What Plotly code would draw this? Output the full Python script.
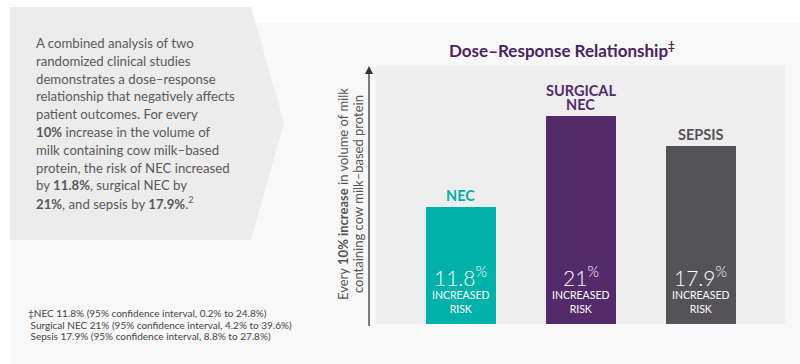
import plotly.graph_objects as go

# ---- data ----
categories = ["NEC", "SURGICAL NEC", "SEPSIS"]
bar_titles = [["NEC"], ["SURGICAL", "NEC"], ["SEPSIS"]]
values = [11.8, 21.0, 17.9]
value_labels = ["11.8", "21", "17.9"]
bar_colors = ["#00b2a9", "#532a6a", "#545358"]

title_text = "Dose\u2013Response Relationship<sup>\u2021</sup>"
ylabel_lines = ["Every <b>10% increase</b> in volume of milk",
                "containing cow milk\u2013based protein"]
body_lines = [
    "A combined analysis of two",
    "randomized clinical studies",
    "demonstrates a dose\u2013response",
    "relationship that negatively affects",
    "patient outcomes. For every",
    "<b>10%</b> increase in the volume of",
    "milk containing cow milk\u2013based",
    "protein, the risk of NEC increased",
    "by <b>11.8%</b>, surgical NEC by",
    "<b>21%</b>, and sepsis by <b>17.9%</b>.<sup>2</sup>",
]
footnote_lines = [
    "\u2021NEC 11.8% (95% confidence interval, 0.2% to 24.8%)",
    "\u00a0Surgical NEC 21% (95% confidence interval, 4.2% to 39.6%)",
    "\u00a0Sepsis 17.9% (95% confidence interval, 8.8% to 27.8%)",
]

W, H = 800, 364
L, R, T, B = 376, 785, 66, 324  # plot area in pixels
FONT = "Lato"


def px(x):
    return (x - L) / (R - L)


def py(y):
    return (B - y) / (B - T)


fig = go.Figure()
fig.add_trace(go.Bar(
    x=categories, y=values, marker=dict(color=bar_colors, line=dict(width=0)),
    width=0.58, hoverinfo="skip", showlegend=False,
))

shapes = [
    dict(type="rect", xref="paper", yref="paper", x0=px(10), x1=px(800),
         y0=py(23), y1=py(364), fillcolor="#f8f8f8", line=dict(width=0), layer="below"),
    dict(type="path", xref="paper", yref="paper",
         path=f"M {px(10)},{py(7)} L {px(251)},{py(7)} L {px(284)},{py(123)} "
              f"L {px(251)},{py(240)} L {px(10)},{py(240)} Z",
         fillcolor="#ececec", line=dict(width=0), layer="below"),
    dict(type="rect", xref="paper", yref="paper", x0=0, x1=1, y0=0, y1=1,
         fillcolor="#eeeeee", line=dict(width=0), layer="below"),
    dict(type="line", xref="paper", yref="paper", x0=px(369), x1=px(369),
         y0=py(326), y1=py(72), line=dict(color="#7a7a7a", width=2), layer="above"),
    dict(type="path", xref="paper", yref="paper",
         path=f"M {px(365)},{py(74)} L {px(373)},{py(74)} L {px(369)},{py(66)} Z",
         fillcolor="#333333", line=dict(width=0), layer="above"),
]

annotations = []


def note(text, x, y, size, color, xanchor="center", **kw):
    annotations.append(dict(text=text, xref="paper", yref="paper", x=px(x), y=py(y),
                            xanchor=xanchor, yanchor="middle", showarrow=False,
                            font=dict(family=FONT, size=size, color=color), **kw))


note(f"<b>{title_text}</b>", 562, 50, 17, "#4a2463")
for i, line in enumerate(ylabel_lines):
    note(line, 343 + 15 * i, 194, 13, "#555555", textangle=-90)
for i, line in enumerate(body_lines):
    note(line, 34, 43 + 17.8 * i, 13.2, "#5a5a5a", xanchor="left")
for i, line in enumerate(footnote_lines):
    note(line, 26, 313 + 11.5 * i, 10, "#444444", xanchor="left")

for cat, ttl, val, lab, col in zip(categories, bar_titles, values, value_labels, bar_colors):
    n = len(ttl)
    for j, line in enumerate(ttl):
        annotations.append(dict(text=f"<b>{line}</b>", x=cat, y=val, xref="x", yref="y",
                                yanchor="bottom", yshift=1 + 14 * (n - 1 - j), showarrow=False,
                                font=dict(family=FONT, size=14.5, color=col)))
    annotations.append(dict(text=f"{lab}<sup>%</sup>",
                            x=cat, y=0, xref="x", yref="y",
                            yanchor="middle", yshift=48, showarrow=False,
                            font=dict(family=FONT, size=21, color="white", weight=300)))
    annotations.append(dict(text="INCREASED<br>RISK", x=cat, y=0, xref="x", yref="y",
                            yanchor="middle", yshift=22, showarrow=False,
                            font=dict(family=FONT, size=10.5, color="white")))

fig.update_layout(
    width=W, height=H,
    margin=dict(l=L, r=W - R, t=T, b=H - B, pad=0),
    paper_bgcolor="white", plot_bgcolor="rgba(0,0,0,0)",
    shapes=shapes, annotations=annotations,
    bargap=0,
    xaxis=dict(type="category", range=[-0.708, 2.70], showticklabels=False,
               showgrid=False, zeroline=False, showline=False, fixedrange=True),
    yaxis=dict(range=[0, 26.0], showticklabels=False, showgrid=False,
               zeroline=False, showline=False, fixedrange=True),
    font=dict(family=FONT),
)

fig.write_html("out.html", config={"displayModeBar": False},
               post_script="document.body.style.margin='0';document.body.style.overflow='hidden';")
